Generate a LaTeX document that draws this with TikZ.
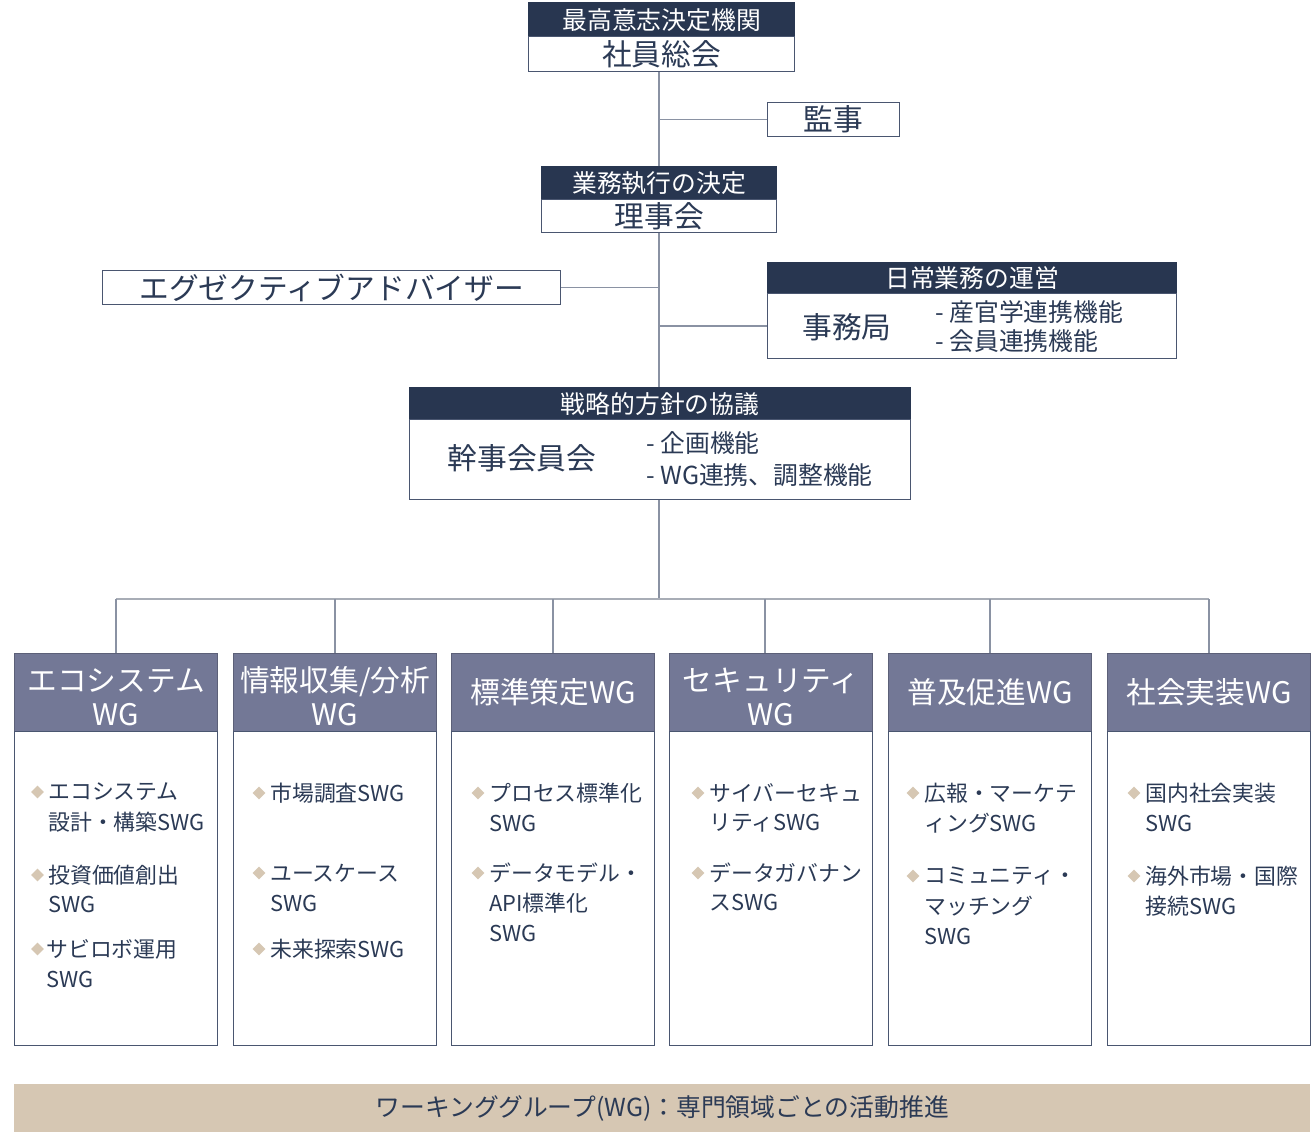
\documentclass[tikz,border=0pt]{standalone}
\usepackage{fontspec}
\setmainfont{Noto Sans CJK JP}
\usetikzlibrary{shapes.geometric}
\definecolor{navyc}{HTML}{283650}
\definecolor{wghc}{HTML}{737896}
\definecolor{connc}{HTML}{8A92A3}
\definecolor{busc}{HTML}{A8ADB6}
\definecolor{beigec}{HTML}{D6C7B3}
\definecolor{txtc}{HTML}{2B3A55}
\definecolor{edgec}{HTML}{4A5670}
\newdimen\upx \upx=0.75pt
\newcommand\fsHead{\fontsize{18.6pt}{22pt}\selectfont}
\newcommand\fsBig{\fontsize{22.3pt}{25.5pt}\selectfont}
\newcommand\fsItem{\fontsize{16.4pt}{22.5pt}\selectfont}
\newcommand\tallstrut{\rule{0pt}{24pt}}
\tikzset{
  hdr/.style={fill=navyc, draw=navyc, line width=1pt, text=white, font=\fsHead, inner sep=0, anchor=north west},
  bodybox/.style={fill=white, draw=edgec, line width=1pt, text=txtc, font=\fsBig, inner sep=0, anchor=north west},
  wghdr/.style={fill=wghc, draw=wghc!80!black, line width=1pt, text=white, font=\fsBig, align=center, inner sep=0, anchor=north west, minimum width=203\upx, minimum height=78\upx},
  wgbody/.style={fill=white, draw=edgec, line width=1pt, inner sep=0, anchor=north west, minimum width=203\upx, minimum height=314\upx},
  conn/.style={draw=connc, line width=1.1pt},
  itm/.style={anchor=west, inner sep=0, text=txtc, font=\fsItem},
  sub/.style={anchor=west, inner sep=0, text=txtc, font=\fsHead},
  dia/.style={diamond, fill=beigec, inner sep=0, minimum size=13\upx},
}
\begin{document}
\begin{tikzpicture}[x=0.75pt, y=-0.75pt]
\useasboundingbox (0,0) rectangle (1313,1133);
\fill[white] (0,0) rectangle (1313,1133);

% top: general meeting
\node[hdr, minimum width=266\upx, minimum height=34\upx] (h1) at (528,2) {最高意志決定機関};
\node[bodybox, minimum width=266\upx, minimum height=35\upx] (b1) at (528,36) {社員総会};
% auditor
\node[bodybox, minimum width=132\upx, minimum height=34\upx] (aud) at (767,102) {監事};
% board
\node[hdr, minimum width=235\upx, minimum height=33\upx] (h2) at (541,166) {業務執行の決定};
\node[bodybox, minimum width=235\upx, minimum height=33\upx] (b2) at (541,199) {理事会};
% advisor
\node[bodybox, minimum width=458\upx, minimum height=34\upx] (adv) at (102,270) {エグゼクティブアドバイザー};
% secretariat
\node[hdr, minimum width=409\upx, minimum height=31\upx] (h3) at (767,262) {日常業務の運営};
\node[bodybox, minimum width=409\upx, minimum height=65\upx] (b3) at (767,293) {};
\node[text=txtc, font=\fsBig, inner sep=0] (b3t) at (847,327) {事務局};
\node[sub] (b3a) at (935,312) {- 産官学連携機能};
\node[sub] (b3b) at (935,341) {- 会員連携機能};
% steering
\node[hdr, minimum width=501\upx, minimum height=32\upx] (h4) at (409,387) {戦略的方針の協議};
\node[bodybox, minimum width=501\upx, minimum height=80\upx] (b4) at (409,419) {};
\node[text=txtc, font=\fsBig, inner sep=0] (b4t) at (522,458) {幹事会員会};
\node[sub] (b4a) at (646,443) {- 企画機能};
\node[sub] (b4b) at (646,475) {- WG連携、調整機能};

% WG boxes
\node[wghdr] (w1) at (14,653) {\tallstrut エコシステム\\WG};
\node[wgbody] (wb1) at (14,731) {};
\node[wghdr] (w2) at (233,653) {\tallstrut 情報収集/分析\\WG};
\node[wgbody] (wb2) at (233,731) {};
\node[wghdr] (w3) at (451,653) {標準策定WG};
\node[wgbody] (wb3) at (451,731) {};
\node[wghdr] (w4) at (669,653) {\tallstrut セキュリティ\\WG};
\node[wgbody] (wb4) at (669,731) {};
\node[wghdr] (w5) at (888,653) {普及促進WG};
\node[wgbody] (wb5) at (888,731) {};
\node[wghdr] (w6) at (1107,653) {社会実装WG};
\node[wgbody] (wb6) at (1107,731) {};

% connectors
\coordinate (bus) at (659,599);
\draw[conn] (h2.north |- b1.south) -- (h2.north);
\draw[conn] (h2.north |- aud.west) -- (aud.west);
\draw[conn] (b2.south) -- (b2.south |- h4.north);
\draw[conn] (adv.east) -- (adv.east -| b2.south);
\draw[conn] (b3.west -| b2.south) -- (b3.west);
\draw[conn] (bus |- b4.south) -- (bus);
\draw[conn, draw=busc] (w1.north |- bus) -- (w6.north |- bus);
\foreach \w in {w1,w2,w3,w5,w6} { \draw[conn] (\w.north |- bus) -- (\w.north); }
\draw[conn] ([xshift=-4.5pt]w4.north |- bus) -- ([xshift=-4.5pt]w4.north);

% WG 1 items
\node[dia] (d11) at (37.5,792) {};
\node[itm] (t11a) at (48,792) {エコシステム};
\node[itm] (t11b) at (48,822) {設計・構築SWG};
\node[dia] (d12) at (37.5,875) {};
\node[itm] (t12a) at (48,875) {投資価値創出};
\node[itm] (t12b) at (48,904) {SWG};
\node[dia] (d13) at (37.5,949) {};
\node[itm] (t13a) at (46,949) {サビロボ運用};
\node[itm] (t13b) at (46,979) {SWG};
% WG 2 items
\node[dia] (d21) at (259,793) {};
\node[itm] (t21a) at (270,793) {市場調査SWG};
\node[dia] (d22) at (259,873) {};
\node[itm] (t22a) at (270,873) {ユースケース};
\node[itm] (t22b) at (270,903) {SWG};
\node[dia] (d23) at (259,949) {};
\node[itm] (t23a) at (270,949) {未来探索SWG};
% WG 3 items
\node[dia] (d31) at (478,793) {};
\node[itm] (t31a) at (489,793) {プロセス標準化};
\node[itm] (t31b) at (489,823) {SWG};
\node[dia] (d32) at (478,873) {};
\node[itm] (t32a) at (489,873) {データモデル・};
\node[itm] (t32b) at (489,903) {API標準化};
\node[itm] (t32c) at (489,933) {SWG};
% WG 4 items
\node[dia] (d41) at (698,793) {};
\node[itm] (t41a) at (709,793) {サイバーセキュ};
\node[itm] (t41b) at (709,823) {リティSWG};
\node[dia] (d42) at (698,873) {};
\node[itm] (t42a) at (709,873) {データガバナン};
\node[itm] (t42b) at (709,903) {スSWG};
% WG 5 items
\node[dia] (d51) at (913,793) {};
\node[itm] (t51a) at (924,793) {広報・マーケテ};
\node[itm] (t51b) at (924,823) {ィングSWG};
\node[dia] (d52) at (913,876) {};
\node[itm] (t52a) at (924,876) {コミュニティ・};
\node[itm] (t52b) at (924,906) {マッチング};
\node[itm] (t52c) at (924,936) {SWG};
% WG 6 items
\node[dia] (d61) at (1134,793) {};
\node[itm] (t61a) at (1145,793) {国内社会実装};
\node[itm] (t61b) at (1145,823) {SWG};
\node[dia] (d62) at (1134,876) {};
\node[itm] (t62a) at (1145,876) {海外市場・国際};
\node[itm] (t62b) at (1145,906) {接続SWG};

% bottom bar
\node[fill=beigec, inner sep=0, anchor=north west, minimum width=1296\upx, minimum height=48\upx, text=txtc, font=\fsHead] (bar) at (14,1084) {ワーキンググループ(WG)：専門領域ごとの活動推進};
\end{tikzpicture}
\end{document}
